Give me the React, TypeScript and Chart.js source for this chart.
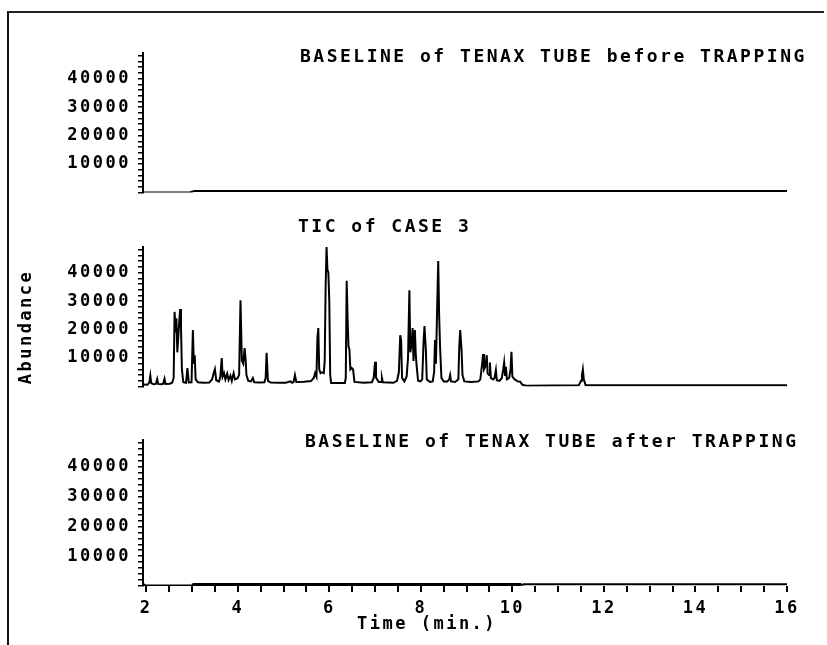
import React, { useEffect, useRef } from "react";
import { Chart, registerables } from "chart.js";

Chart.register(...registerables);

// ---------- data ----------
const X_MIN = 1.93;
const X_MAX = 16;
const Y_MAX = 49000;

// tick positions (every 2000 on abundance, every 0.5 min on time)
const yTickValues = [
  0, 2000, 4000, 6000, 8000, 10000, 12000, 14000, 16000, 18000, 20000, 22000, 24000,
  26000, 28000, 30000, 32000, 34000, 36000, 38000, 40000, 42000, 44000, 46000, 48000,
];
const yTickLabels = [10000, 20000, 30000, 40000];
const xTickValues = [
  2, 2.5, 3, 3.5, 4, 4.5, 5, 5.5, 6, 6.5, 7, 7.5, 8, 8.5, 9, 9.5, 10, 10.5, 11, 11.5,
  12, 12.5, 13, 13.5, 14, 14.5, 15, 15.5, 16,
];
const xTickLabels = [2, 4, 6, 8, 10, 12, 14, 16];

// Panel 1: baseline of Tenax tube before trapping
const beforeTime = [1.93, 2.95, 3.05, 16.0];
const beforeAbundance = [0, 0, 500, 500];

// Panel 2: TIC of case 3
const ticTime = [
  1.93, 2.03, 2.07, 2.09, 2.11, 2.16, 2.21, 2.24, 2.26, 2.33, 2.37, 2.4, 2.42,
  2.52, 2.57, 2.6, 2.62, 2.64, 2.66, 2.68, 2.71, 2.74, 2.76, 2.78, 2.81, 2.87,
  2.9, 2.93, 2.99, 3.02, 3.04, 3.06, 3.08, 3.13, 3.25, 3.38, 3.44, 3.47, 3.5,
  3.53, 3.59, 3.62, 3.65, 3.67, 3.7, 3.73, 3.77, 3.8, 3.84, 3.87, 3.91, 3.94,
  3.99, 4.03, 4.06, 4.09, 4.12, 4.15, 4.17, 4.19, 4.23, 4.29, 4.33, 4.36, 4.48,
  4.58, 4.61, 4.63, 4.66, 4.72, 4.9, 5.05, 5.15, 5.19, 5.22, 5.25, 5.28, 5.45,
  5.6, 5.66, 5.69, 5.72, 5.74, 5.76, 5.78, 5.81, 5.85, 5.88, 5.9, 5.92, 5.94,
  5.96, 5.98, 6.0, 6.02, 6.04, 6.34, 6.36, 6.38, 6.4, 6.42, 6.44, 6.46, 6.49,
  6.52, 6.55, 6.75, 6.93, 6.97, 7.0, 7.02, 7.08, 7.13, 7.15, 7.17, 7.4, 7.48,
  7.52, 7.55, 7.57, 7.59, 7.64, 7.69, 7.72, 7.75, 7.77, 7.8, 7.82, 7.84, 7.87,
  7.89, 7.91, 7.94, 7.99, 8.03, 8.06, 8.08, 8.11, 8.13, 8.2, 8.26, 8.29, 8.31,
  8.33, 8.36, 8.38, 8.4, 8.42, 8.45, 8.5, 8.58, 8.62, 8.64, 8.66, 8.75, 8.82,
  8.84, 8.86, 8.89, 8.91, 8.95, 9.1, 9.26, 9.3, 9.34, 9.36, 9.38, 9.41, 9.44,
  9.46, 9.49, 9.51, 9.53, 9.58, 9.61, 9.64, 9.66, 9.72, 9.77, 9.8, 9.82, 9.84,
  9.86, 9.88, 9.93, 9.96, 9.98, 10.0, 10.05, 10.12, 10.17, 10.22, 10.3, 11.45,
  11.5, 11.52, 11.54, 11.56, 11.6, 16.0,
];
const ticAbundance = [
  700, 600, 1500, 3800, 1200, 800, 900, 2600, 900, 800, 1000, 2700, 900,
  1000, 1400, 3000, 26200, 19000, 24000, 12000, 19800, 27200, 21000, 6000, 1500, 1300,
  6500, 1400, 1500, 19800, 8000, 11000, 2500, 1500, 1300, 1400, 2500, 4500, 6100,
  2200, 1700, 3500, 10000, 3500, 4700, 2500, 4500, 2300, 3800, 2000, 4700, 2500,
  2800, 4000, 30300, 9000, 8000, 13500, 10000, 4000, 2000, 1800, 3000, 1500, 1400,
  1500, 3000, 11800, 2000, 1400, 1300, 1300, 1800, 1300, 1600, 4000, 1600, 1700,
  1900, 3000, 4700, 3500, 17000, 20500, 6000, 4700, 5000, 4700, 9000, 35000, 49000,
  41000, 40000, 30000, 4000, 1200, 1200, 3000, 37100, 24000, 14000, 13000, 6000, 6500,
  6000, 1600, 1300, 1500, 3000, 8700, 3200, 1600, 1600, 3000, 1500, 1300, 2000,
  5000, 18000, 16000, 3000, 1800, 3500, 10000, 33800, 12000, 15000, 20500, 9000, 19800,
  11000, 7000, 2000, 1800, 2500, 16000, 21200, 12800, 2500, 1600, 1800, 5000, 16300,
  8000, 30000, 44100, 25000, 14000, 3000, 1800, 1800, 2500, 4000, 1800, 1600, 2500,
  14000, 19800, 12800, 4000, 1800, 1600, 1800, 2500, 8000, 11400, 6000, 7000, 11000,
  4500, 4000, 8400, 3000, 2500, 3000, 5800, 2200, 2000, 3000, 6000, 8400, 4000,
  6900, 2500, 3000, 6000, 12200, 3500, 2500, 1800, 1700, 600, 300, 400,
  2000, 4000, 6000, 2500, 400, 400,
];

// Panel 3: baseline of Tenax tube after trapping
const afterTime = [1.93, 1.98, 3.0, 3.05, 10.2, 10.25, 16.0];
const afterAbundance = [700, 200, 200, 300, 300, 600, 600];

// ---------- styling ----------
const MONO = '"DejaVu Sans Mono", "Liberation Mono", monospace';
const LETTER = "2.5px";
const TITLE_FONT = `bold 18px ${MONO}`;
const BOLD_FONT = `bold 17px ${MONO}`;

type TextItem = {
  text: string;
  x: number;
  y: number;
  font: string;
  rotate?: number;
  align?: CanvasTextAlign;
};

function textPlugin(items: TextItem[]) {
  return {
    id: "panelText",
    beforeDraw(chart: any) {
      chart.ctx.letterSpacing = LETTER;
    },
    afterDraw(chart: any) {
      const ctx = chart.ctx;
      items.forEach((it) => {
        ctx.save();
        ctx.letterSpacing = LETTER;
        ctx.font = it.font;
        ctx.fillStyle = "#000";
        ctx.textBaseline = "middle";
        ctx.textAlign = it.align || "left";
        ctx.translate(it.x, it.y);
        if (it.rotate) ctx.rotate(it.rotate);
        ctx.fillText(it.text, 0, 0);
        ctx.restore();
      });
    },
  };
}

type Panel = {
  top: number;
  height: number;
  padTop: number;
  padBottom: number;
  showX: boolean;
  time: number[];
  values: number[];
  texts: TextItem[];
  thickFrom?: number;
  thickTo?: number;
};

function yLabel(v: any): string {
  const n = Math.round(Number(v));
  return yTickLabels.includes(n) ? String(n) : "";
}

function xLabel(v: any): string {
  const n = Math.round(Number(v) * 2) / 2;
  return xTickLabels.includes(n) ? String(n) : "";
}

function buildConfig(p: Panel): any {
  const data = p.time.map((t, i) => ({ x: t, y: p.values[i] }));
  const ds: any = {
    data,
    borderColor: "#000",
    borderWidth: 2,
    pointRadius: 0,
    tension: 0,
    fill: false,
  };
  if (p.thickFrom !== undefined) {
    ds.segment = {
      borderWidth: (c: any) =>
        c.p0.parsed.x >= (p.thickFrom as number) && c.p1.parsed.x <= (p.thickTo as number) ? 4 : 2,
    };
  }
  return {
    type: "line",
    data: { datasets: [ds] },
    options: {
      responsive: false,
      animation: false,
      events: [],
      layout: { padding: { left: 0, right: 40, top: p.padTop, bottom: p.padBottom } },
      plugins: {
        legend: { display: false },
        tooltip: { enabled: false },
        title: { display: false },
      },
      scales: {
        x: {
          type: "linear",
          min: X_MIN,
          max: X_MAX,
          display: p.showX,
          border: { display: false },
          grid: {
            drawOnChartArea: false,
            drawTicks: true,
            tickLength: 6,
            color: "#000",
            lineWidth: 2,
          },
          ticks: {
            autoSkip: false,
            source: "data",
            maxRotation: 0,
            minRotation: 0,
            padding: 6,
            color: "#000",
            font: { family: MONO, size: 17, weight: "bold" },
            callback: xLabel,
          },
          afterBuildTicks: (s: any) => {
            s.ticks = xTickValues.map((v) => ({ value: v }));
          },
          afterFit: (s: any) => {
            if (p.showX) s.height = 59;
          },
        },
        y: {
          type: "linear",
          min: 0,
          max: Y_MAX,
          border: { display: true, color: "#000", width: 2 },
          grid: {
            drawOnChartArea: false,
            drawTicks: true,
            tickLength: 5,
            color: "#000",
            lineWidth: 1.5,
          },
          ticks: {
            autoSkip: false,
            source: "data",
            padding: 7,
            color: "#000",
            font: { family: MONO, size: 17, weight: "bold" },
            callback: yLabel,
          },
          afterBuildTicks: (s: any) => {
            s.ticks = yTickValues.map((v) => ({ value: v }));
          },
          afterFit: (s: any) => {
            s.width = 143;
          },
        },
      },
    },
    plugins: [textPlugin(p.texts)],
  };
}

const panels: Panel[] = [
  {
    top: 0,
    height: 215,
    padTop: 53,
    padBottom: 22.5,
    showX: false,
    time: beforeTime,
    values: beforeAbundance,
    texts: [{ text: "BASELINE of TENAX TUBE before TRAPPING", x: 300, y: 57, font: TITLE_FONT }],
  },
  {
    top: 205,
    height: 205,
    padTop: 42,
    padBottom: 23.5,
    showX: false,
    time: ticTime,
    values: ticAbundance,
    texts: [
      { text: "TIC of CASE 3", x: 298, y: 22, font: TITLE_FONT },
      { text: "Abundance", x: 27, y: 122, font: BOLD_FONT, rotate: -Math.PI / 2, align: "center" },
    ],
  },
  {
    top: 400,
    height: 245,
    padTop: 40,
    padBottom: 0,
    showX: true,
    time: afterTime,
    values: afterAbundance,
    thickFrom: 3.0,
    thickTo: 10.2,
    texts: [
      { text: "BASELINE of TENAX TUBE after TRAPPING", x: 305, y: 42, font: TITLE_FONT },
      { text: "Time (min.)", x: 357, y: 225, font: BOLD_FONT },
    ],
  },
];

function PanelChart({ panel }: { panel: Panel }) {
  const ref = useRef<HTMLCanvasElement | null>(null);
  useEffect(() => {
    if (!ref.current) return;
    const chart = new Chart(ref.current, buildConfig(panel));
    return () => chart.destroy();
  }, [panel]);
  return (
    <canvas
      ref={ref}
      width={827}
      height={panel.height}
      style={{ position: "absolute", left: 0, top: panel.top, width: 827, height: panel.height }}
    />
  );
}

export default function App() {
  return (
    <div
      style={{
        position: "fixed",
        left: 0,
        top: 0,
        width: 827,
        height: 645,
        background: "#fff",
        overflow: "hidden",
      }}
    >
      <div
        style={{
          position: "absolute",
          left: 7,
          top: 11,
          width: 815,
          height: 700,
          borderLeft: "2px solid #111",
          borderTop: "2px solid #222",
        }}
      />
      {panels.map((p, i) => (
        <PanelChart key={i} panel={p} />
      ))}
    </div>
  );
}
